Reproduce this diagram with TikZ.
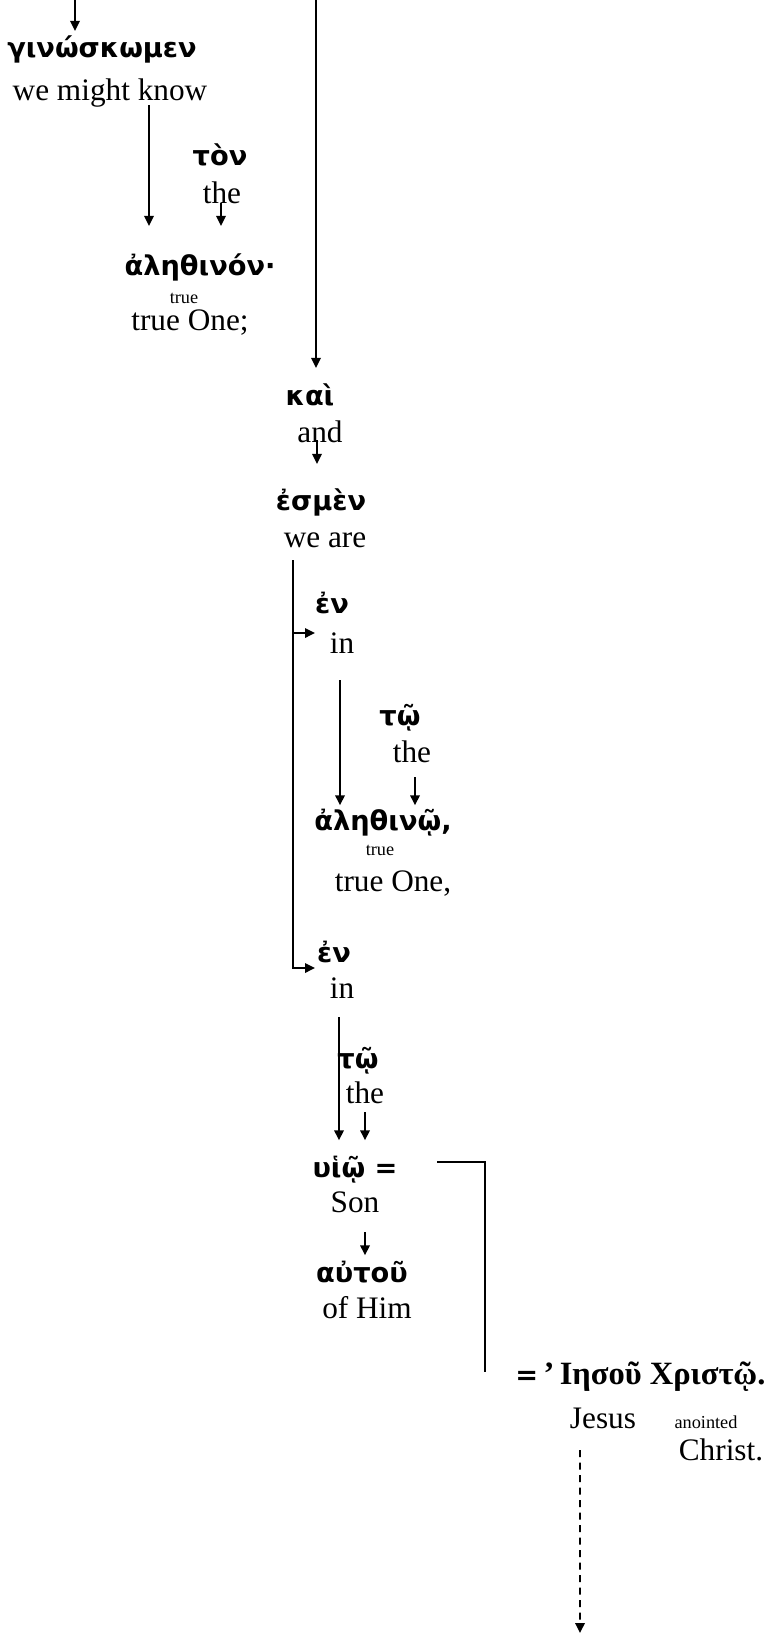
\documentclass[tikz,border=0pt]{standalone}
\usepackage{fontspec}
\setmainfont{Liberation Serif}
\newfontfamily\grk{DejaVu Sans}
\usetikzlibrary{arrows.meta}

\begin{document}
\begin{tikzpicture}[
      greek/.style={font=\grk\bfseries\fontsize{15.5}{18}\selectfont, inner sep=0pt, anchor=base},
      gloss/.style={font=\fontsize{17.8}{21}\selectfont, inner sep=0pt, anchor=base},
      lit/.style={font=\fontsize{10.4}{12}\selectfont, inner sep=0pt, anchor=base},
      arr/.style={-{Triangle[length=0.2cm, width=0.19cm]}, line width=0.035cm},
      link/.style={line width=0.035cm}]
    \useasboundingbox (0,0) rectangle (15.38,-32.70);
    \coordinate (top1) at (1.50, 0);
    \coordinate (top2) at (6.32, 0);
    \node[greek] (ginosk) at (2.04, -1.14) {γινώσκωμεν};
    \node[gloss] (ginoskE) at (2.20, -2.00) {we might know};
    \node[greek] (ton) at (4.40, -3.30) {τὸν};
    \node[gloss] (tonE) at (4.44, -4.06) {the};
    \node[greek] (alethon) at (4.00, -5.50) {ἀληθινόν·};
    \node[lit] (alethonL) at (3.68, -6.06) {true};
    \node[gloss] (alethonE) at (3.80, -6.60) {true One;};
    \node[greek] (kai) at (6.20, -8.10) {καὶ};
    \node[gloss] (kaiE) at (6.40, -8.84) {and};
    \node[greek] (esmen) at (6.42, -10.20) {ἐσμὲν};
    \node[gloss] (esmenE) at (6.50, -10.94) {we are};
    \node[greek] (enA) at (6.64, -12.26) {ἐν};
    \node[gloss] (enAE) at (6.84, -13.06) {in};
    \node[greek] (toA) at (8.00, -14.50) {τῷ};
    \node[gloss] (toAE) at (8.24, -15.24) {the};
    \node[greek] (alethoi) at (7.66, -16.60) {ἀληθινῷ,};
    \node[lit] (alethoiL) at (7.60, -17.10) {true};
    \node[gloss] (alethoiE) at (7.86, -17.82) {true One,};
    \node[greek] (enB) at (6.68, -19.24) {ἐν};
    \node[gloss] (enBE) at (6.84, -19.96) {in};
    \node[greek] (toB) at (7.16, -21.36) {τῷ};
    \node[gloss] (toBE) at (7.30, -22.06) {the};
    \node[greek] (huio) at (7.10, -23.54) {υἱῷ =};
    \node[gloss] (huioE) at (7.10, -24.24) {Son};
    \node[greek] (autou) at (7.24, -25.64) {αὐτοῦ};
    \node[gloss] (autouE) at (7.34, -26.36) {of Him};
    \node[gloss, anchor=base west, font=\bfseries\fontsize{18.5}{22}\selectfont] (iesou) at (10.30, -27.68)
      {{\grk\fontsize{15.5}{18}\selectfont =}\,’\,Ιησοῦ Χριστῷ.};
    \node[gloss] (iesouE) at (12.06, -28.56) {Jesus};
    \node[lit] (christL) at (14.12, -28.56) {anointed};
    \node[gloss] (christE) at (14.42, -29.20) {Christ.};
    \coordinate (split) at ([xshift=-0.64cm, yshift=-0.26cm]esmenE.base);
    \coordinate (enAtip) at ([xshift=-0.54cm, yshift=0.40cm]enAE.base);
    \coordinate (bottom) at (11.60, -32.66);
    \draw[arr, shorten >=0.08cm] (top1) -- (top1 |- ginosk.north);
    \draw[arr, shorten >=0.30cm] (top2) -- (top2 |- kai.north);
    \draw[arr, shorten >=0.54cm] ([xshift=0.78cm, yshift=-0.10cm]ginoskE.base) coordinate (s)
      -- (s |- alethon.north);
    \draw[arr, shorten >=0.54cm] ([xshift=-0.02cm]tonE.base) coordinate (s) -- (s |- alethon.north);
    \draw[arr, shorten >=0.48cm] ([xshift=-0.06cm, yshift=0.04cm]kaiE.base) coordinate (s)
      -- (s |- esmen.north);
    \draw[link] (split) -- (split |- enAtip);
    \draw[arr] (split |- enAtip) -- (enAtip);
    \draw[arr] (split) |- ([xshift=-0.38cm, yshift=-0.12cm]enB.base);
    \draw[arr, shorten >=0.06cm] ([xshift=-0.04cm, yshift=-0.54cm]enAE.base) coordinate (s)
      -- (s |- alethoi.north);
    \draw[arr, shorten >=0.06cm] ([xshift=0.06cm, yshift=-0.30cm]toAE.base) coordinate (s)
      -- (s |- alethoi.north);
    \draw[arr, shorten >=0.30cm] ([xshift=-0.06cm, yshift=-0.38cm]enBE.base) coordinate (s)
      -- (s |- huio.north);
    \draw[arr, shorten >=0.30cm] ([yshift=-0.18cm]toBE.base) coordinate (s) -- (s |- huio.north);
    \draw[arr, shorten >=0.10cm] ([xshift=0.20cm, yshift=-0.40cm]huioE.base) coordinate (s)
      -- (s |- autou.north);
    \draw[link] ([xshift=1.64cm, yshift=0.30cm]huio.base) -| ([xshift=-0.60cm, yshift=0.24cm]iesou.base west);
    \draw[arr, dash pattern=on 0.14cm off 0.11cm] ([xshift=-0.46cm, yshift=-0.44cm]iesouE.base)
      -- (bottom);
  \end{tikzpicture}
\end{document}
